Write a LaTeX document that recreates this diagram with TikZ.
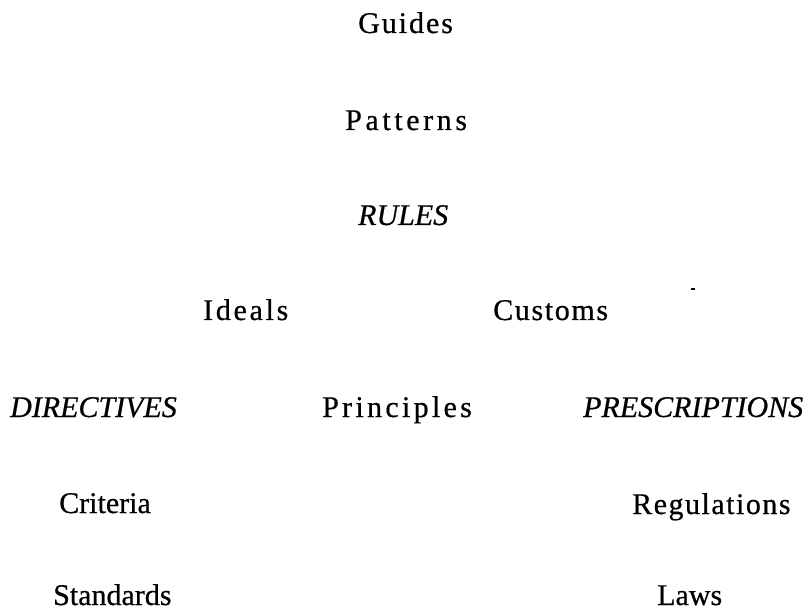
\documentclass[tikz,border=0pt]{standalone}
\usepackage{fontspec}
\setmainfont{Liberation Serif}[FakeBold=0.6]
\newcommand{\spaced}[2]{{\addfontfeatures{LetterSpace=#1}#2}}
\begin{document}
\begin{tikzpicture}[x=1pt,y=1pt,
  term/.style={anchor=base west,inner sep=0pt,font=\fontsize{30}{36}\selectfont},
  head/.style={term,font=\fontsize{30}{36}\selectfont\itshape}]
\useasboundingbox (0,0) rectangle (808,611);
% upper column
\node[term] (guides)   at (358,578) {\spaced{6.5}{Guides}};
\node[term] (patterns) at (345,481) {\spaced{12}{Patterns}};
\node[head] (rules)    at (358,386) {RULES};
% middle row
\node[term] (ideals)   at (203,291) {\spaced{9}{Ideals}};
\node[term] (customs)  at (493,291) {\spaced{5.5}{Customs}};
% category row
\node[head] (directives)    at (10,194)  {DIRECTIVES};
\node[term] (principles)    at (322,194) {\spaced{11}{Principles}};
\node[head] (prescriptions) at (583,194) {PRESCRIPTIONS};
% lower columns
\node[term] (criteria)    at (59,98)  {Criteria};
\node[term] (regulations) at (632,97) {\spaced{5}{Regulations}};
\node[term] (standards)   at (53,6)   {Standards};
\node[term] (laws)        at (657,6)  {Laws};
% small stray mark
\fill (691,321) rectangle (695,323);
\end{tikzpicture}
\end{document}
